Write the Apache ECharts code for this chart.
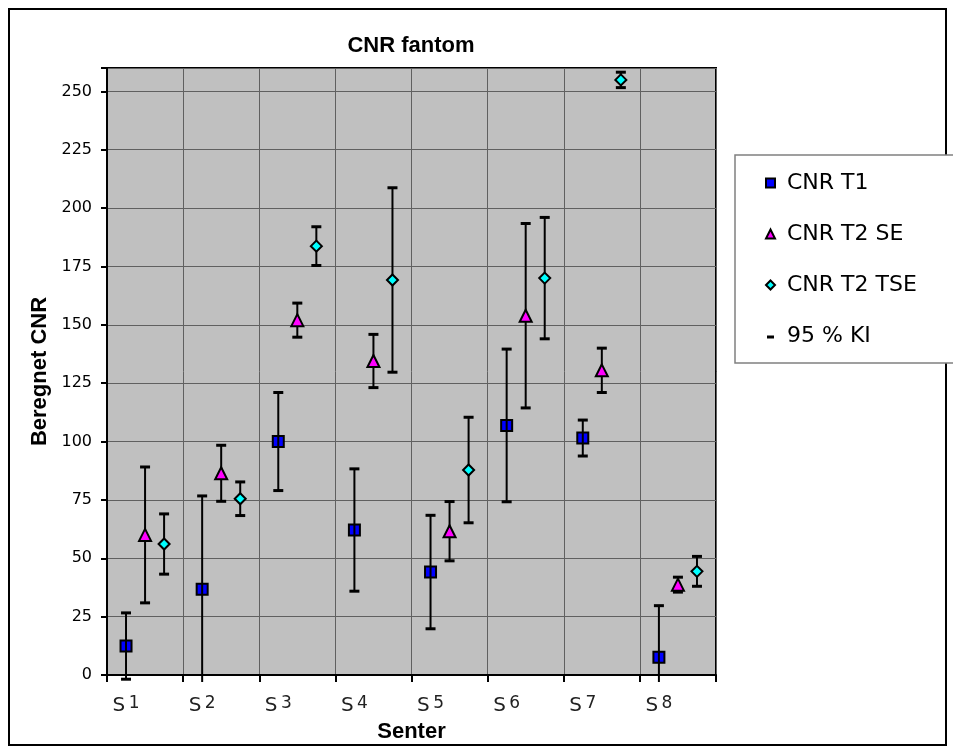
<!DOCTYPE html>
<html>
<head>
<meta charset="utf-8">
<script src="https://cdn.jsdelivr.net/npm/echarts@6/dist/echarts.min.js"></script>
<style>
  html, body { margin: 0; padding: 0; background: #fff; }
  #chart { width: 953px; height: 750px; }
</style>
</head>
<body>
<div id="chart"></div>
<script>
// sites along x
let senter = ["S 1", "S 2", "S 3", "S 4", "S 5", "S 6", "S 7", "S 8"];

// CNR values, and half width of the 95 % KI
let cnrT1 = [12.4, 36.7, 100, 62.1, 44.1, 106.9, 101.5, 7.6];
let kiT1 = [14.2, 40, 21, 26.2, 24.3, 32.7, 7.7, 22.1];
let cnrT2SE = [60, 86.4, 152, 134.5, 61.6, 153.9, 130.5, 38.7];
let kiT2SE = [29.1, 12, 7.3, 11.4, 12.7, 39.5, 9.5, 3.2];
let cnrT2TSE = [56.1, 75.5, 183.7, 169.2, 87.8, 170, 254.9, 44.4];
let kiT2TSE = [12.9, 7.2, 8.3, 39.5, 22.6, 26, 3.3, 6.4];

let yTicks = [0, 25, 50, 75, 100, 125, 150, 175, 200, 225, 250];

// each site gets one unit on x, the three series sit at a quarter, half, three quarters
let offT1 = 0.25, offSE = 0.5, offTSE = 0.75;

function points(vals, off) {
  return vals.map((v, i) => [i + off, v]);
}
function errRows(vals, ki, off) {
  return vals.map((v, i) => [i + off, v - ki[i], v + ki[i]]);
}

let errData = [].concat(
  errRows(cnrT1, kiT1, offT1),
  errRows(cnrT2SE, kiT2SE, offSE),
  errRows(cnrT2TSE, kiT2TSE, offTSE)
);

let font = "'Liberation Sans', Arial, sans-serif";
let wide = "'DejaVu Sans', Verdana, sans-serif";

let chart = echarts.init(document.getElementById("chart"));

var option = {
  backgroundColor: "#fff",
  animation: false,
  textStyle: { fontFamily: font },
  grid: {
    left: 107,
    top: 68,
    width: 609,
    height: 607,
    show: true,
    backgroundColor: "#c0c0c0",
    borderColor: "#000",
    borderWidth: 2,
  },
  graphic: [
    {
      type: "rect",
      shape: { x: 9, y: 9, width: 937, height: 736 },
      style: { fill: "none", stroke: "#000", lineWidth: 2 },
      z: -1,
    },
    {
      type: "rect",
      shape: { x: 735, y: 155, width: 230, height: 208 },
      style: { fill: "#fff", stroke: "#808080", lineWidth: 1.5 },
      z: -1,
    },
    {
      type: "text",
      x: 411,
      y: 46,
      style: {
        text: "CNR fantom",
        font: "bold 22px " + font,
        fill: "#000",
        textAlign: "center",
        textVerticalAlign: "middle",
      },
    },
  ],
  legend: {
    orient: "vertical",
    left: 760,
    top: 167,
    itemWidth: 9,
    itemHeight: 9,
    itemGap: 29,
    textStyle: { fontSize: 22, color: "#000", fontFamily: wide, padding: [0, 0, 0, 7] },
    data: [
      { name: "CNR T1", icon: "rect" },
      { name: "CNR T2 SE", icon: "triangle" },
      { name: "CNR T2 TSE", icon: "diamond" },
      {
        name: "95 % KI",
        icon: "path://M0,0L0.01,0L0.01,0.01ZM1,4L8,4L8,7L1,7ZM9,9L8.99,9L8.99,8.99Z",
      },
    ],
  },
  xAxis: {
    type: "value",
    min: 0,
    max: senter.length,
    interval: 1,
    name: "Senter",
    nameLocation: "middle",
    nameGap: 41,
    nameTextStyle: { fontSize: 22, fontWeight: "bold", color: "#000", fontFamily: font },
    axisLine: { lineStyle: { color: "#000", width: 2 } },
    axisTick: { show: true, length: 7, lineStyle: { color: "#000", width: 2 } },
    splitLine: { show: true, lineStyle: { color: "#606060", width: 1 } },
    axisLabel: {
      customValues: senter.map((s, i) => i + offT1),
      margin: 20,
      formatter: function (v) {
        let i = Math.round(v - offT1);
        let parts = (senter[i] || "").split(" ");
        return "{s|" + parts[0] + "} {d|" + parts[1] + "}";
      },
      rich: {
        s: { fontSize: 20, color: "#222", fontFamily: wide, verticalAlign: "bottom" },
        d: { fontSize: 17, color: "#222", fontFamily: wide, verticalAlign: "bottom", padding: [0, 0, 4, 0] },
      },
    },
  },
  yAxis: {
    type: "value",
    min: 0,
    max: 260,
    interval: 25,
    name: "Beregnet CNR",
    nameLocation: "middle",
    nameGap: 55,
    nameTextStyle: { fontSize: 22, fontWeight: "bold", color: "#000", fontFamily: font },
    axisLine: { show: true, lineStyle: { color: "#000", width: 2 } },
    axisTick: { show: true, length: 6, lineStyle: { color: "#000", width: 2 } },
    splitLine: { show: true, lineStyle: { color: "#606060", width: 1 } },
    axisLabel: {
      fontSize: 16,
      fontFamily: wide,
      color: "#000",
      margin: 15,
      formatter: function (v) {
        return yTicks.indexOf(v) >= 0 ? String(v) : "";
      },
    },
  },
  series: [
    {
      name: "CNR T1",
      type: "scatter",
      symbol: "rect",
      symbolSize: 11,
      z: 2,
      itemStyle: { color: "#0000ff", borderColor: "#000", borderWidth: 2, opacity: 1 },
      data: points(cnrT1, offT1),
    },
    {
      name: "95 % KI",
      type: "custom",
      z: 3,
      clip: false,
      itemStyle: { color: "#000" },
      renderItem: function (params, api) {
        let x = api.value(0);
        let lo = api.coord([x, api.value(1)]);
        let hi = api.coord([x, api.value(2)]);
        let base = api.coord([x, 0])[1] + 7;
        let clipped = lo[1] > base;
        let yLo = clipped ? base : lo[1];
        let kids = [
          { type: "line", shape: { x1: hi[0], y1: hi[1], x2: hi[0], y2: yLo },
            style: { stroke: "#000", lineWidth: 2 } },
          { type: "line", shape: { x1: hi[0] - 5, y1: hi[1], x2: hi[0] + 5, y2: hi[1] },
            style: { stroke: "#000", lineWidth: 3 } },
        ];
        if (!clipped) {
          kids.push({ type: "line", shape: { x1: lo[0] - 5, y1: lo[1], x2: lo[0] + 5, y2: lo[1] },
            style: { stroke: "#000", lineWidth: 3 } });
        }
        return { type: "group", children: kids };
      },
      data: errData,
    },
    {
      name: "CNR T2 SE",
      type: "scatter",
      symbol: "triangle",
      symbolSize: 12,
      z: 4,
      itemStyle: { color: "#ff00ff", borderColor: "#000", borderWidth: 2, opacity: 1 },
      data: points(cnrT2SE, offSE),
    },
    {
      name: "CNR T2 TSE",
      type: "scatter",
      symbol: "diamond",
      symbolSize: 11,
      z: 4,
      itemStyle: { color: "#00ffff", borderColor: "#000", borderWidth: 2, opacity: 1 },
      data: points(cnrT2TSE, offTSE),
    },
  ],
};

chart.setOption(option);

window.onresize = function () {
  chart.resize();
};
</script>
</body>
</html>
